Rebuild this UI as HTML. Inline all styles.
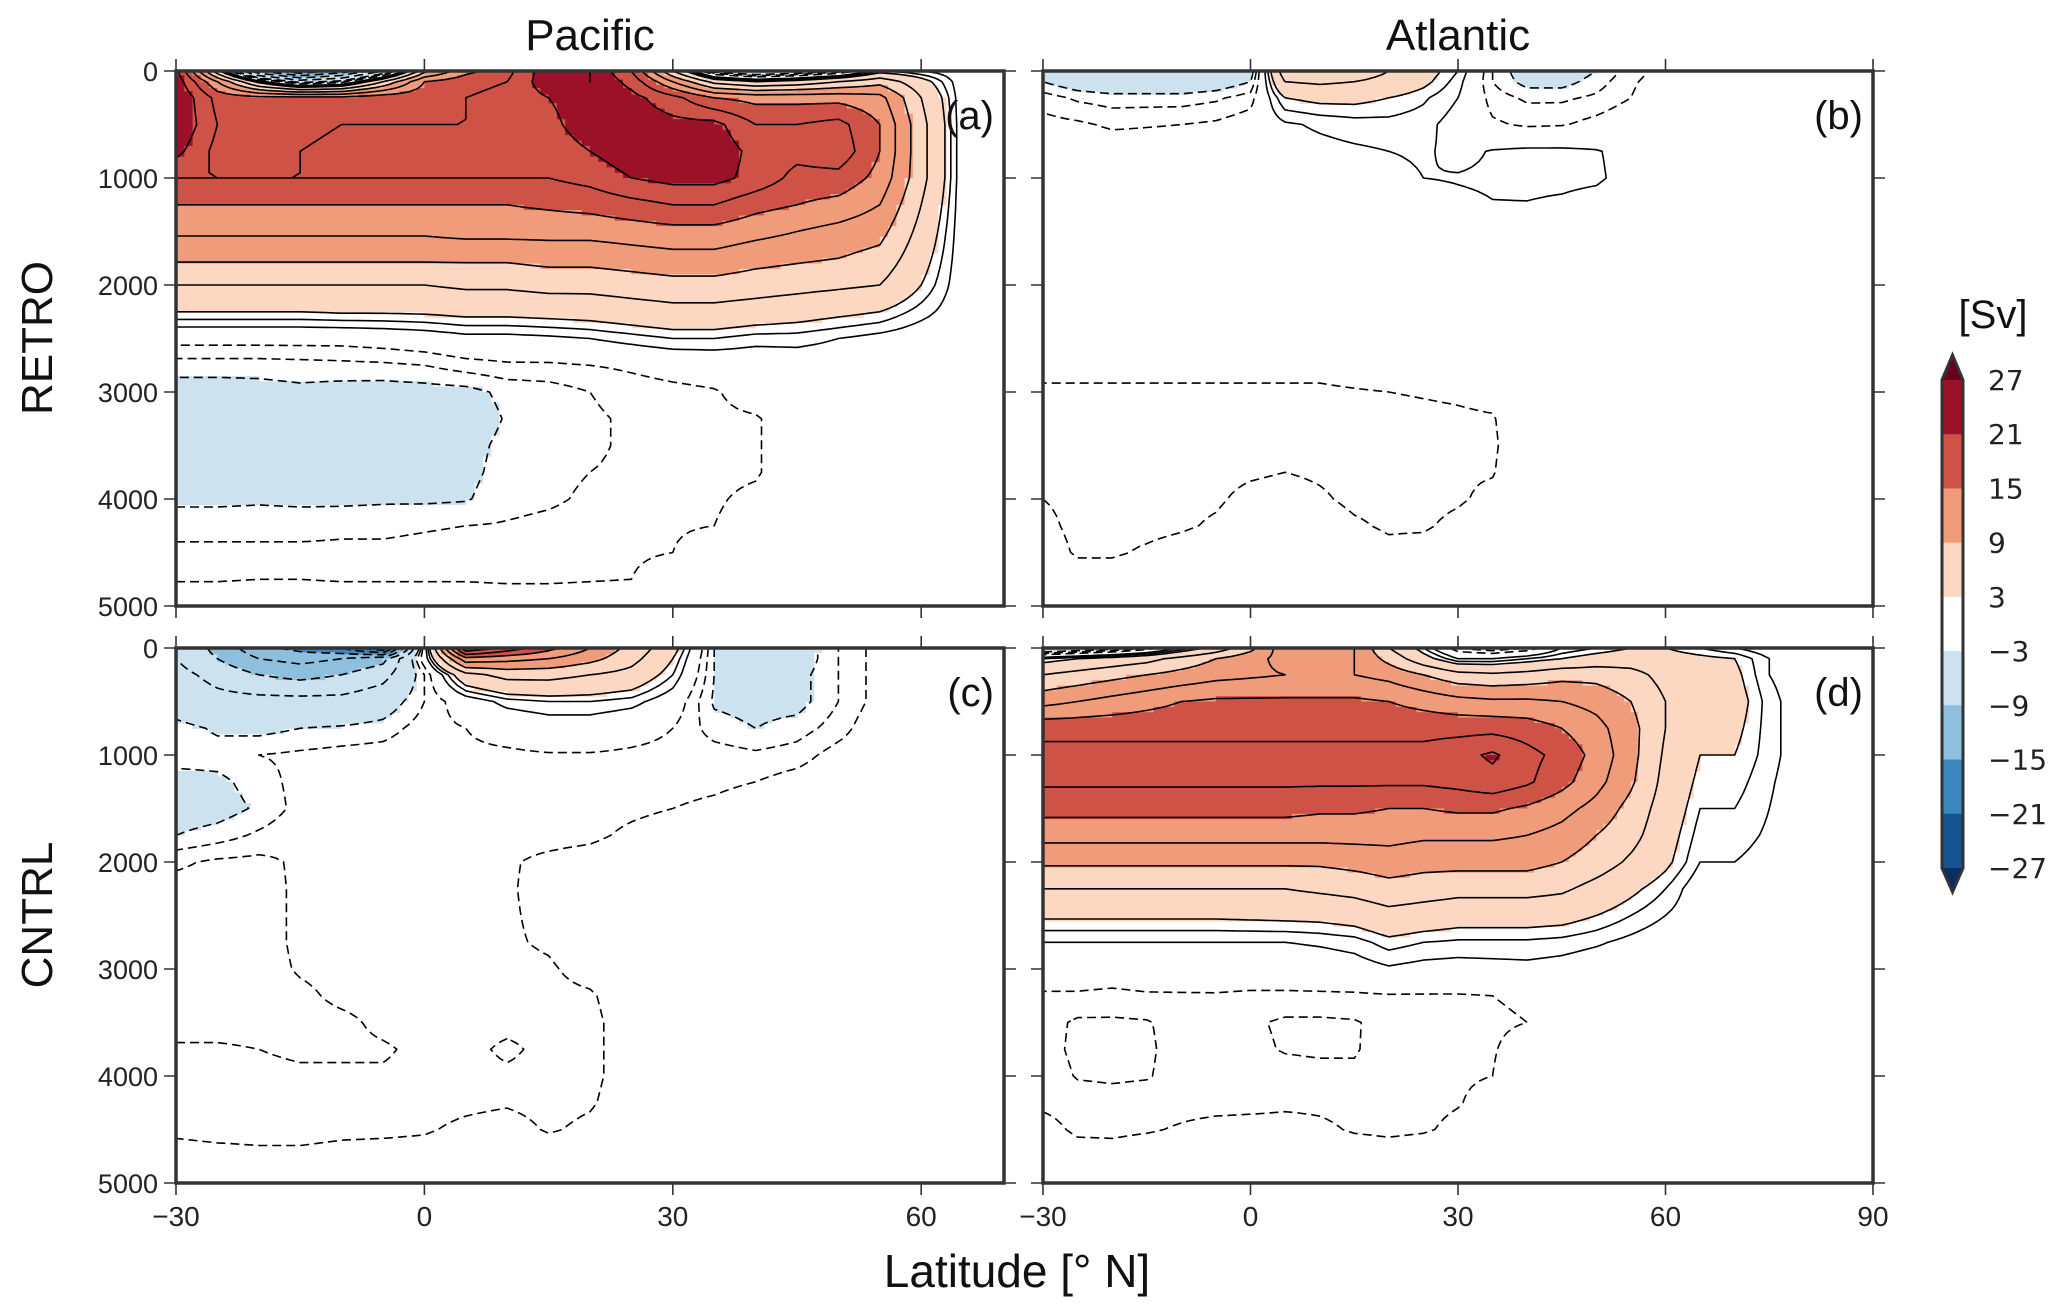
<!DOCTYPE html>
<html><head><meta charset="utf-8"><style>
html,body{margin:0;padding:0;background:#fff;}
svg{display:block;font-family:"Liberation Sans","DejaVu Sans",sans-serif;}
</style></head><body>
<svg id="chart" width="2067" height="1311" viewBox="0 0 2067 1311" xmlns="http://www.w3.org/2000/svg">
<defs>
<clipPath id="clip-a"><rect x="176" y="71" width="828" height="535"/></clipPath>
<clipPath id="clip-b"><rect x="1043" y="71" width="830" height="535"/></clipPath>
<clipPath id="clip-c"><rect x="176" y="648" width="828" height="535"/></clipPath>
<clipPath id="clip-d"><rect x="1043" y="648" width="830" height="535"/></clipPath>
</defs>
<text x="590" y="50" font-size="44" text-anchor="middle" fill="#111">Pacific</text>
<text x="1458" y="50" font-size="44" text-anchor="middle" fill="#111">Atlantic</text>
<text transform="translate(52,338) rotate(-90)" font-size="44" text-anchor="middle" fill="#111">RETRO</text>
<text transform="translate(52,915) rotate(-90)" font-size="44" text-anchor="middle" fill="#111">CNTRL</text>
<text x="1017" y="1287" font-size="46" text-anchor="middle" fill="#111">Latitude [° N]</text>
<g id="layer"></g>
</svg>
<script>
// ---- data ----
const DEPTHS=[0,100,250,500,750,1000,1250,1500,1750,2000,2250,2500,2750,3000,3250,3500,3750,4000,4250,4500,4750,5000];
const PAC_LAT=[-30,-25,-20,-15,-10,-5,0,5,10,15,20,25,30,35,40,45,50,55,60,65,70];
const ATL_LAT=[-30,-25,-20,-15,-10,-5,0,5,10,15,20,25,30,35,40,45,50,55,60,65,70,75,80,85,90];
const LEVEL_BOUNDS=[-27,-21,-15,-9,-3,3,9,15,21,27];
const CONTOUR_LEVELS=[-24,-21,-18,-15,-12,-9,-6,-3,-2,-1,1,2,3,6,9,12,15,18,21,24];
const CB_LABELS=["27","21","15","9","3","\u22123","\u22129","\u221215","\u221221","\u221227"];
const Y_TICKS=[0,1000,2000,3000,4000,5000];
const PAC_X_TICKS=[-30,0,30,60];
const ATL_X_TICKS=[-30,0,30,60,90];
const Z21=[0,0,0,0,0,0,0,0,0,0,0,0,0,0,0,0,0,0,0,0,0];
const RETRO_PAC=[
[22,4,-12,-18,-14,-6,8,14,17,23,24,18,6,-4,-6,-5,-3,2,1,0,0],
[23,12,2,-4,-2,6,15,17,18,23,24,20,12,5,3,4,6,8,4,0,0],
[24,17,16,16,16,17,17,18,19,21,23,22,19,15,14,14,14,13,6,0,0],
[24,18,17,17,18,18,18,18,19,20,23,23,22,22,18,18,19,15,7,0,0],
[22,17,17,18,19,19,19,19,19,19,21,23,23,23,20,19,20,15,7,0,0],
[18,18,18,18,18,18,18,18,18,18,19,21,22,22,20,17,17,14,7,0,0],
[15,15,15,15,15,15,15,15,15,15.5,16,17,18,18,16,15,14,12,6,0,0],
[12.5,12.5,12.5,12.5,12.5,12.5,12.5,13,13,13,13,13.5,14,14,13,12,11,10,5,0,0],
[9.5,9.5,9.5,9.5,9.5,9.5,9.5,9.5,9.5,10,10,10.5,11,11,10,9.5,9,8,4,0,0],
[6,6,6,6,6,6,6,6.5,6.5,7,7,7.5,8,8,7.5,7,6.5,6,3,0,0],
[3,3,3,3,3.2,3.2,3.3,3.6,3.6,3.8,4,4.5,5,5,4.5,4,3.5,3,1.5,0,0],
[-0.5,-0.5,-0.5,-0.5,-0.5,-0.3,0,0.5,0.5,0.7,1,1.5,2,2,1.5,1.5,1,0.5,0,0,0],
[-2.5,-2.5,-2.5,-2.4,-2.3,-2.2,-2,-1.5,-1.2,-1.2,-1,-0.8,-0.5,-0.3,-0.2,0,0,0,0,0,0],
[-3.6,-3.6,-3.5,-3.3,-3.5,-3.6,-3.5,-3.4,-2.7,-2.5,-2,-1.5,-1.3,-1.1,-0.5,0,0,0,0,0,0],
[-4,-4,-4,-4,-4,-4,-3.8,-3.7,-2.9,-2.8,-2.2,-1.8,-1.4,-1.2,-1.1,-0.4,0,0,0,0,0],
[-4,-4,-4,-3.8,-3.8,-3.8,-3.6,-3.4,-2.7,-2.4,-2.2,-1.8,-1.4,-1.2,-1.1,-0.4,0,0,0,0,0],
[-3.8,-3.8,-3.6,-3.6,-3.7,-3.6,-3.4,-3.3,-2.6,-2.3,-2,-1.8,-1.3,-1.2,-1.1,-0.4,0,0,0,0,0],
[-3.3,-3.3,-3.2,-3.3,-3.3,-3.2,-3.2,-3.1,-2.4,-2.2,-1.8,-1.6,-1.3,-1.1,-0.8,-0.3,0,0,0,0,0],
[-2.3,-2.3,-2.3,-2.3,-2.2,-2.2,-2.1,-2,-1.9,-1.7,-1.5,-1.2,-1.1,-1,-0.6,0,0,0,0,0,0],
[-1.8,-1.8,-1.8,-1.8,-1.8,-1.8,-1.7,-1.6,-1.5,-1.4,-1.2,-1.1,-1,-0.5,0,0,0,0,0,0,0],
[-1.1,-1.1,-1,-1,-1.1,-1.1,-1.1,-1.1,-1.2,-1.2,-1.1,-1,-0.6,-0.2,0,0,0,0,0,0,0],
Z21];
const CNTRL_PAC=[
[-6,-10,-14,-16,-18,-24,0,24,20,16,12,8,4,-3,-5,-4,-2,-0.5,0,0,0],
[-6,-9,-12,-13,-12,-10,0,14,13,12,10,7,3,-3,-4,-4,-2,-0.5,0,0,0],
[-5,-7,-9,-10,-9,-7,-2,5,7,7,6,5,2,-3,-3.5,-3.5,-2,-0.5,0,0,0],
[-4,-5,-5,-5,-5,-4,-2,0,1.5,2,2,1.5,0,-3.2,-3.5,-3.5,-2,-0.5,0,0,0],
[-2.5,-3.2,-3.4,-3,-2.8,-2.5,-1.5,-1,-0.5,0,0,-0.5,-1,-2.5,-3,-2.5,-1.5,0,0,0,0],
[-2.5,-2.5,-2,-1.8,-1.6,-1.5,-1.2,-1.2,-1.2,-1.1,-1.1,-1.2,-1.3,-1.5,-1.8,-1.5,-0.5,0,0,0,0],
[-3.5,-3.3,-2.5,-1.6,-1.4,-1.4,-1.2,-1.2,-1.3,-1.3,-1.3,-1.3,-1.3,-1.2,-1,-0.5,0,0,0,0,0],
[-3.8,-3.6,-2.8,-1.6,-1.4,-1.3,-1.2,-1.3,-1.4,-1.4,-1.4,-1.2,-1,-0.8,-0.5,0,0,0,0,0,0],
[-3,-2.5,-1.8,-1.2,-1.2,-1.3,-1.3,-1.3,-1.3,-1.3,-1.2,-0.8,-0.5,-0.3,0,0,0,0,0,0,0],
[-1.2,-0.8,-0.7,-1.2,-1.3,-1.3,-1.3,-1.3,-1.1,-0.8,-0.6,-0.4,-0.3,0,0,0,0,0,0,0,0],
[-0.6,-0.6,-0.6,-1.2,-1.3,-1.3,-1.3,-1.3,-1.1,-0.7,-0.5,-0.3,0,0,0,0,0,0,0,0,0],
[-0.6,-0.6,-0.6,-1.2,-1.3,-1.3,-1.3,-1.3,-1.1,-0.8,-0.5,-0.3,0,0,0,0,0,0,0,0,0],
[-0.6,-0.6,-0.6,-1.2,-1.3,-1.3,-1.3,-1.3,-1.1,-0.9,-0.5,-0.3,0,0,0,0,0,0,0,0,0],
[-0.6,-0.6,-0.6,-1.1,-1.3,-1.3,-1.3,-1.3,-1.2,-1.1,-0.7,-0.3,0,0,0,0,0,0,0,0,0],
[-0.6,-0.6,-0.6,-0.8,-1.2,-1.3,-1.3,-1.3,-1.3,-1.2,-1.1,-0.5,0,0,0,0,0,0,0,0,0],
[-0.7,-0.7,-0.7,-0.7,-0.8,-1.2,-1.3,-1.3,-1.3,-1.3,-1.2,-0.6,0,0,0,0,0,0,0,0,0],
[-1.1,-1.1,-1.0,-0.8,-0.8,-0.9,-1.2,-1.3,-0.8,-1.3,-1.2,-0.6,0,0,0,0,0,0,0,0,0],
[-1.3,-1.3,-1.3,-1.2,-1.2,-1.1,-1.2,-1.3,-1.2,-1.3,-1.2,-0.6,0,0,0,0,0,0,0,0,0],
[-1.3,-1.3,-1.3,-1.3,-1.3,-1.3,-1.3,-1.2,-1.1,-1.3,-1.1,-0.5,0,0,0,0,0,0,0,0,0],
[-1.2,-1.3,-1.3,-1.3,-1.2,-1.2,-1.1,-0.8,-0.6,-1.1,-0.8,-0.3,0,0,0,0,0,0,0,0,0],
[-0.6,-0.7,-0.8,-0.8,-0.7,-0.6,-0.6,-0.4,-0.3,-0.4,-0.3,0,0,0,0,0,0,0,0,0,0],
Z21];
const Z25=[0,0,0,0,0,0,0,0,0,0,0,0,0,0,0,0,0,0,0,0,0,0,0,0,0];
const RETRO_ATL=[
[-3,-4,-5,-5,-5,-4,-4,8,9,8,6,4,2,-2,-4,-4,-3,-1.5,-0.5,0,0,0,0,0,0],
[-3,-4,-4.5,-4.5,-4.5,-4,-3,6,6.5,6,5,3.5,1.5,-2,-3.5,-3.5,-2.5,-1.2,-0.3,0,0,0,0,0,0],
[-1.5,-2.2,-2.5,-2.5,-2.5,-2.2,-1.5,3,3.5,3.5,3,2.2,1,-1.5,-2.2,-2.2,-1.8,-1,0,0,0,0,0,0,0],
[-0.6,-0.8,-1.2,-1.1,-1,-0.8,-0.3,0.8,1.2,1.5,1.6,1.4,0.4,-0.8,-1.2,-1.1,-0.6,0,0,0,0,0,0,0,0],
[0,0,-0.2,-0.2,-0.2,0,0,0.4,0.6,0.8,1,1.2,0.6,1.1,1.3,1.3,1.1,0.5,0,0,0,0,0,0,0],
[0,0,0,0,0,0,0,0.2,0.3,0.4,0.5,1.0,1.1,1.2,1.3,1.3,1.2,0.5,0,0,0,0,0,0,0],
[0,0,0,0,0,0,0,0,0,0,0,0.3,0.7,0.95,0.95,0.8,0.5,0,0,0,0,0,0,0,0],
[-0.2,-0.2,-0.2,-0.2,-0.2,-0.2,-0.2,-0.2,-0.2,-0.2,-0.2,-0.2,-0.2,0,0,0,0,0,0,0,0,0,0,0,0],
[-0.3,-0.3,-0.3,-0.3,-0.3,-0.3,-0.3,-0.3,-0.3,-0.3,-0.3,-0.3,-0.2,-0.1,0,0,0,0,0,0,0,0,0,0,0],
[-0.4,-0.4,-0.4,-0.4,-0.4,-0.4,-0.4,-0.4,-0.4,-0.4,-0.4,-0.3,-0.3,-0.2,0,0,0,0,0,0,0,0,0,0,0],
[-0.5,-0.5,-0.5,-0.5,-0.5,-0.5,-0.5,-0.5,-0.5,-0.5,-0.4,-0.4,-0.3,-0.2,0,0,0,0,0,0,0,0,0,0,0],
[-0.6,-0.6,-0.6,-0.6,-0.6,-0.6,-0.6,-0.6,-0.6,-0.5,-0.5,-0.4,-0.3,-0.2,0,0,0,0,0,0,0,0,0,0,0],
[-0.8,-0.8,-0.8,-0.8,-0.8,-0.8,-0.8,-0.8,-0.8,-0.7,-0.6,-0.5,-0.4,-0.3,0,0,0,0,0,0,0,0,0,0,0],
[-1.1,-1.1,-1.1,-1.1,-1.1,-1.1,-1.1,-1.1,-1.1,-1.05,-1.0,-0.95,-0.9,-0.8,-0.4,0,0,0,0,0,0,0,0,0,0],
[-1.2,-1.2,-1.2,-1.2,-1.2,-1.2,-1.2,-1.2,-1.2,-1.2,-1.2,-1.15,-1.1,-1.05,-0.5,0,0,0,0,0,0,0,0,0,0],
[-1.2,-1.2,-1.2,-1.2,-1.2,-1.2,-1.2,-1.2,-1.2,-1.2,-1.2,-1.2,-1.15,-1.1,-0.5,0,0,0,0,0,0,0,0,0,0],
[-1.2,-1.2,-1.2,-1.2,-1.2,-1.2,-1.1,-1.0,-1.1,-1.2,-1.2,-1.2,-1.1,-1.05,-0.4,0,0,0,0,0,0,0,0,0,0],
[-1.0,-1.2,-1.2,-1.2,-1.2,-1.1,-0.8,-0.7,-0.9,-1.15,-1.2,-1.2,-1.1,-0.8,0,0,0,0,0,0,0,0,0,0,0],
[-0.8,-1.2,-1.2,-1.2,-1.1,-0.9,-0.6,-0.5,-0.6,-0.9,-1.1,-1.1,-0.8,-0.3,0,0,0,0,0,0,0,0,0,0,0],
[-0.6,-1.1,-1.1,-0.9,-0.7,-0.5,-0.3,-0.2,-0.3,-0.6,-0.8,-0.7,-0.4,0,0,0,0,0,0,0,0,0,0,0,0],
[-0.3,-0.6,-0.6,-0.4,-0.3,-0.2,-0.1,0,-0.1,-0.2,-0.3,-0.2,0,0,0,0,0,0,0,0,0,0,0,0,0],
Z25];
const CNTRL_ATL=[
[-6,-5,-4,-2,1,4,8,14,14,12,6,2,-2,-3,-2,1,2,3,3,2,1,0,0,0,0],
[2,3,4,5,7,9,11,13,13,12,8,4,1,1,2,3,4,4.5,4,3.5,3,1,0,0,0],
[6,7,8,9,10,11,11.5,12,12,12,11,9,7,6.5,7,8,8,7,5,4.5,3.5,1,0,0,0],
[11,12,13,14,15,15.5,15.5,15.5,15.5,15.5,15,14,13,12.5,12.5,12,11,9,6,5,4,1.5,0,0,0],
[17,17,17,17,17,17,17,17,17,17,17,17,17,17,16.5,15,13,10,6,4,3.5,1.5,0,0,0],
[19,19,19,19,19,19,19,19,19,19,19,19,20,21.5,19,17,14,10,5.5,3,3,1.5,0,0,0],
[18.5,18.5,18.5,18.5,18.5,18.5,18.5,18.5,18.5,18.5,18.5,18.5,19,20,18.5,16,13,9.5,5,2.5,2.5,1.2,0,0,0],
[16,16,16,16,16,16,16,16,15.5,15.5,15,15,15.5,15.5,14.5,13,11,8,4.5,2,2,1,0,0,0],
[13,13,13,13,13,13,13,13,13,13,13,12.5,12.5,12.5,12,11,9,7,4,1.5,1.5,0.8,0,0,0],
[9.5,9.5,9.5,9.5,9.5,9.5,9.5,9.5,9.5,10,10.5,10,10,10,10,9,7.5,5.5,3.5,1,1,0.5,0,0,0],
[6,6,6,6,6,6,6,6,6.5,7,8,7.5,7,7,7,6.5,5,3.5,2,0,0,0,0,0,0],
[3.3,3.3,3.3,3.3,3.3,3.3,3.4,3.5,3.6,4,5,4.5,4,4,4,3.8,3,2,1,0,0,0,0,0,0],
[1,1,1,1,1,1,1,1,1.2,1.5,2.5,2,1.8,1.8,1.8,1.6,1.2,0.6,0,0,0,0,0,0,0],
[-0.5,-0.5,-0.5,-0.4,-0.3,-0.2,-0.2,-0.2,0,0.3,0.8,0.5,0.4,0.5,0.6,0.4,0,0,0,0,0,0,0,0,0],
[-1.1,-1.1,-1.2,-1.1,-1.1,-1.1,-1.2,-1.2,-1.2,-1.2,-1.1,-1.1,-1.1,-1,-0.9,-0.6,-0.3,0,0,0,0,0,0,0,0],
[-1.5,-2.2,-2.2,-2.1,-1.5,-1.4,-1.8,-2.2,-2.2,-2.1,-1.6,-1.2,-1.1,-1.1,-1.0,-0.5,0,0,0,0,0,0,0,0,0],
[-1.5,-2.3,-2.4,-2.2,-1.5,-1.5,-1.7,-2.1,-2.2,-2.1,-1.5,-1.3,-1.1,-1.05,-0.7,-0.3,0,0,0,0,0,0,0,0,0],
[-1.3,-2.1,-2.2,-2.1,-1.5,-1.4,-1.4,-1.5,-1.6,-1.8,-1.4,-1.3,-1.1,-1,-0.5,0,0,0,0,0,0,0,0,0,0],
[-1.2,-1.4,-1.5,-1.4,-1.3,-1.3,-1.3,-1.2,-1.2,-1.3,-1.3,-1.2,-1.05,-0.7,-0.2,0,0,0,0,0,0,0,0,0,0],
[-0.6,-1.2,-1.2,-1.1,-0.9,-0.7,-0.6,-0.6,-0.8,-1.1,-1.2,-1.1,-0.8,-0.3,0,0,0,0,0,0,0,0,0,0,0],
[-0.2,-0.5,-0.6,-0.4,-0.3,-0.2,-0.2,-0.2,-0.3,-0.4,-0.5,-0.4,-0.2,0,0,0,0,0,0,0,0,0,0,0,0],
Z25];

// ---- rendering ----
const NS="http://www.w3.org/2000/svg";
const layer=document.getElementById('layer');
function mk(tag,attrs,parent){const e=document.createElementNS(NS,tag);for(const k in attrs)e.setAttribute(k,attrs[k]);(parent||layer).appendChild(e);return e;}
const FILL_COLORS=["#053061","#175290","#3d87bf","#8ebfdc","#cce2ef",null,"#fcd7c2","#f09c7b","#cf5246","#9b1127","#67001f"];
function colorFor(v){let k=0;while(k<LEVEL_BOUNDS.length&&v>=LEVEL_BOUNDS[k])k++;return FILL_COLORS[k];}

function chainSegments(segs){
 // join segments sharing endpoints into polylines
 const key=p=>p[0].toFixed(1)+','+p[1].toFixed(1);
 const map=new Map();
 segs.forEach((s,i)=>{[0,1].forEach(e=>{const k=key(s[e]);if(!map.has(k))map.set(k,[]);map.get(k).push(i);});});
 const used=new Array(segs.length).fill(false);
 const lines=[];
 for(let i=0;i<segs.length;i++){
  if(used[i])continue;used[i]=true;
  let line=[segs[i][0],segs[i][1]];
  for(let dir=0;dir<2;dir++){
   let going=true;
   while(going){
    going=false;
    const end=line[line.length-1];
    const cand=map.get(key(end))||[];
    for(const j of cand){if(used[j])continue;used[j]=true;
     const s=segs[j];const nxt=key(s[0])===key(end)?s[1]:s[0];line.push(nxt);going=true;break;}
   }
   line.reverse();
  }
  lines.push(line);
 }
 return lines;
}

const PANELS=[
 {id:'a',name:'panel-a-retro-pacific',x0:176,x1:1004,y0:71,y1:606,lat0:-30,lat1:70,lats:PAC_LAT,grid:RETRO_PAC,ticks:PAC_X_TICKS,labels:false},
 {id:'b',name:'panel-b-retro-atlantic',x0:1043,x1:1873,y0:71,y1:606,lat0:-30,lat1:90,lats:ATL_LAT,grid:RETRO_ATL,ticks:ATL_X_TICKS,labels:false},
 {id:'c',name:'panel-c-cntrl-pacific',x0:176,x1:1004,y0:648,y1:1183,lat0:-30,lat1:70,lats:PAC_LAT,grid:CNTRL_PAC,ticks:PAC_X_TICKS,labels:true},
 {id:'d',name:'panel-d-cntrl-atlantic',x0:1043,x1:1873,y0:648,y1:1183,lat0:-30,lat1:90,lats:ATL_LAT,grid:CNTRL_ATL,ticks:ATL_X_TICKS,labels:true}
];
const S=5;
PANELS.forEach(p=>{
 const xs=lat=>p.x0+(lat-p.lat0)/(p.lat1-p.lat0)*(p.x1-p.x0);
 const ys=d=>p.y0+d/5000*(p.y1-p.y0);
 const g=mk('g',{'clip-path':'url(#clip-'+p.id+')'});
 
 
 const RL=[],RD=[];
 for(let j=0;j<p.lats.length-1;j++)for(let l=0;l<S;l++)RL.push(p.lats[j]+(p.lats[j+1]-p.lats[j])*l/S);
 RL.push(p.lats[p.lats.length-1]);
 for(let i=0;i<DEPTHS.length-1;i++)for(let l=0;l<S;l++)RD.push(DEPTHS[i]+(DEPTHS[i+1]-DEPTHS[i])*l/S);
 RD.push(DEPTHS[DEPTHS.length-1]);
 const V=[];
 for(let r=0;r<RD.length;r++){const i=Math.min(Math.floor(r/S),DEPTHS.length-2);const fi=(RD[r]-DEPTHS[i])/(DEPTHS[i+1]-DEPTHS[i]);
  const row=[];
  for(let c=0;c<RL.length;c++){const j=Math.min(Math.floor(c/S),p.lats.length-2);const fj=(RL[c]-p.lats[j])/(p.lats[j+1]-p.lats[j]);
   const a=p.grid[i][j],b=p.grid[i][j+1],cc=p.grid[i+1][j],dd=p.grid[i+1][j+1];
   row.push(a*(1-fi)*(1-fj)+b*(1-fi)*fj+cc*fi*(1-fj)+dd*fi*fj);}
  V.push(row);}
 for(let r=0;r<RD.length-1;r++){
  const yA=ys(RD[r]),yB=ys(RD[r+1]);
  let runC=null,runX=0;
  for(let c=0;c<=RL.length-1;c++){
   let col=null;
   if(c<RL.length-1){const v=(V[r][c]+V[r][c+1]+V[r+1][c]+V[r+1][c+1])/4;col=colorFor(v);}
   if(col!==runC||c===RL.length-1){
    if(runC){const x=xs(RL[c]);const rc=mk('rect',{x:runX.toFixed(1),y:yA.toFixed(1),width:(x-runX+0.6).toFixed(1),height:(yB-yA+0.6).toFixed(1),fill:runC},g);
     
     }
    runC=col;runX=xs(RL[c]);
   }
  }
 }
 CONTOUR_LEVELS.forEach(L=>{
  const segs=[];
  for(let r=0;r<RD.length-1;r++)for(let c=0;c<RL.length-1;c++){
   const corners=[[RL[c],RD[r],V[r][c]],[RL[c+1],RD[r],V[r][c+1]],[RL[c+1],RD[r+1],V[r+1][c+1]],[RL[c],RD[r+1],V[r+1][c]]];
   const pts=[];
   for(let e=0;e<4;e++){const A=corners[e],B=corners[(e+1)%4];
    if((A[2]<L)!==(B[2]<L)){const t=(L-A[2])/(B[2]-A[2]);pts.push([xs(A[0]+(B[0]-A[0])*t),ys(A[1]+(B[1]-A[1])*t)]);}}
   if(pts.length===2)segs.push([pts[0],pts[1]]);
   else if(pts.length===4){segs.push([pts[0],pts[1]]);segs.push([pts[2],pts[3]]);}
  }
  if(!segs.length)return;
  const lines=chainSegments(segs);
  let d='';
  lines.forEach(ln=>{d+='M'+ln.map(q=>q[0].toFixed(1)+' '+q[1].toFixed(1)).join('L');});
  const pa=mk('path',{d:d,fill:'none',stroke:'#000','stroke-width':'1.6','stroke-linejoin':'round'},g);
  if(L<0)pa.setAttribute('stroke-dasharray','9 5');
  
  
 });
 const fr=mk('rect',{x:p.x0,y:p.y0,width:p.x1-p.x0,height:p.y1-p.y0,fill:'none',stroke:'#333','stroke-width':'3.5'});
 
 
 let td='';
 Y_TICKS.forEach(t=>{const y=ys(t);td+=`M${p.x0-12} ${y}H${p.x0}M${p.x1} ${y}H${p.x1+12}`;});
 p.ticks.forEach(t=>{const x=xs(t);td+=`M${x} ${p.y0-12}V${p.y0}M${x} ${p.y1}V${p.y1+12}`;});
 const tk=mk('path',{d:td,stroke:'#333','stroke-width':'1.6',fill:'none'});
 
 
 if(p.x0<500){Y_TICKS.forEach(t=>{const tx=mk('text',{x:158,y:ys(t)+10,'font-size':27,'text-anchor':'end',fill:'#222'});tx.textContent=String(t);
  
  });}
 if(p.labels){p.ticks.forEach(t=>{const tx=mk('text',{x:xs(t),y:1226,'font-size':28,'text-anchor':'middle',fill:'#222'});tx.textContent=t<0?'\u2212'+(-t):String(t);
  
  });}
 const lb=mk('text',{x:p.x1-10,y:p.y0+58,'font-size':40,'text-anchor':'end',fill:'#111'});lb.textContent='('+p.id+')';
 
 
});
const cb=mk('g',{});


const cbx0=1942,cbx1=1963,cbTop=380,cbBot=868,cbStep=(cbBot-cbTop)/(LEVEL_BOUNDS.length-1);
for(let k=0;k<LEVEL_BOUNDS.length-1;k++){
 const col=FILL_COLORS[LEVEL_BOUNDS.length-1-k]||'#ffffff';
 const r=mk('rect',{x:cbx0,y:cbTop+k*cbStep,width:cbx1-cbx0,height:cbStep+0.5,fill:col},cb);
 
 
}
const tt=mk('path',{d:`M${cbx0} ${cbTop}L${(cbx0+cbx1)/2} 355L${cbx1} ${cbTop}Z`,fill:FILL_COLORS[10]},cb);


const bt=mk('path',{d:`M${cbx0} ${cbBot}L${(cbx0+cbx1)/2} 892L${cbx1} ${cbBot}Z`,fill:FILL_COLORS[0]},cb);


const ol=mk('path',{d:`M${cbx0} ${cbTop}L${(cbx0+cbx1)/2} 355L${cbx1} ${cbTop}V${cbBot}L${(cbx0+cbx1)/2} 892L${cbx0} ${cbBot}Z`,fill:'none',stroke:'#333','stroke-width':'3'},cb);


CB_LABELS.forEach((s,k)=>{const t=mk('text',{x:1988,y:cbTop+k*cbStep+10,'font-size':28,fill:'#222','font-family':'"DejaVu Sans",sans-serif'},cb);t.textContent=s;
 
 });
const un=mk('text',{x:1993,y:328,'font-size':40,'text-anchor':'middle',fill:'#111'},cb);un.textContent='[Sv]';


</script>
</body></html>
